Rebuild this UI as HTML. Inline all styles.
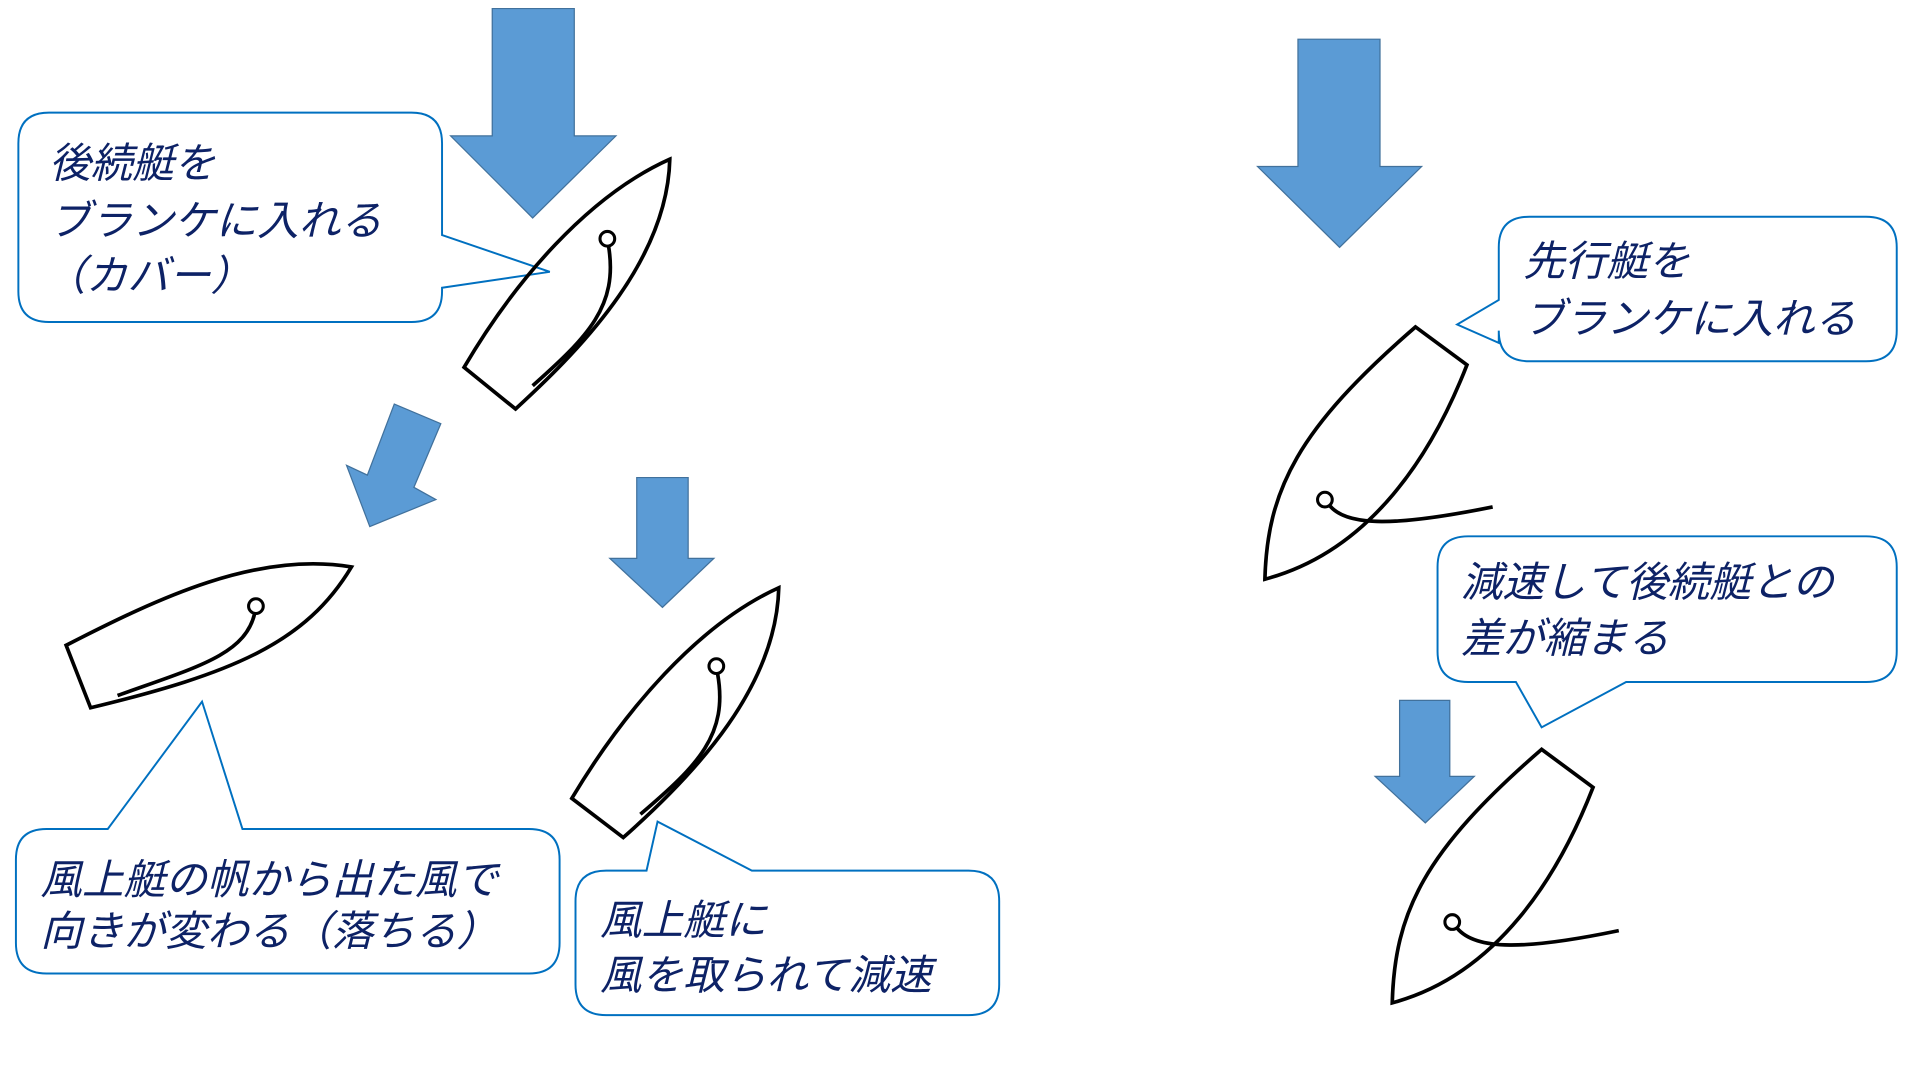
<!DOCTYPE html>
<html><head><meta charset="utf-8"><style>
html,body{margin:0;padding:0;background:#fff;}
svg{display:block;}
text{font-family:"Liberation Sans","Noto Sans CJK JP",sans-serif;font-style:italic;font-size:34px;fill:#0D2266;}
.ar{fill:#5B9BD5;stroke:#41719C;stroke-width:1;}
.co{fill:#fff;stroke:#0070C0;stroke-width:1.6;}
.bt{fill:none;stroke:#000;stroke-width:3;stroke-linejoin:miter;}
</style></head><body>
<svg width="1920" height="1080" viewBox="0 0 1568 882" xmlns="http://www.w3.org/2000/svg">
<!-- arrows -->
<polygon class="ar" points="402,7 469,7 469,111 503,111 435,178 368,111 402,111"/>
<polygon class="ar" points="322,330 360,346 338,398 356,408 302,430 283,380 300,388"/>
<polygon class="ar" points="520,390 562,390 562,456 583,456 541,496 498,456 520,456"/>
<polygon class="ar" points="1060,32 1127,32 1127,136 1161,136 1094,202 1027,136 1060,136"/>
<polygon class="ar" points="1143,572 1184,572 1184,634 1204,634 1164,672 1123,634 1143,634"/>

<!-- callout 1 -->
<path class="co" d="M40,92 H336 Q361,92 361,117 V192 L449,222 L361,235 V238 Q361,263 336,263 H40 Q15,263 15,238 V117 Q15,92 40,92 Z"/>
<text x="40" y="145">後続艇を</text>
<text x="40" y="192">ブランケに入れる</text>
<text x="36" y="237">（カバー）</text>

<!-- boat 1 -->
<path class="bt" d="M547,130 C480,160 420,230 379,300 L421,334 C480,280 545,210 547,130 Z"/>
<circle cx="496" cy="195" r="6" fill="#fff" stroke="#000" stroke-width="2.5"/>
<path class="bt" d="M497,201 C505,250 480,275 435,315"/>

<!-- boat 2 -->
<path class="bt" d="M54,527 C130,488 210,450 287,463 C250,525 190,550 74,578 Z"/>
<circle cx="209" cy="495" r="6" fill="#fff" stroke="#000" stroke-width="2.5"/>
<path class="bt" d="M208,501 C200,535 160,545 96,568"/>

<!-- callout 3 -->
<path class="co" d="M38,677 H88 L165,573 L198,677 H432 Q457,677 457,702 V770 Q457,795 432,795 H38 Q13,795 13,770 V702 Q13,677 38,677 Z"/>
<text x="33" y="730">風上艇の帆から出た風で</text>
<text x="33" y="772">向きが変わる（落ちる）</text>

<!-- boat 3 -->
<path class="bt" d="M636,480 C570,510 510,580 467,652 L509,684 C570,630 634,560 636,480 Z"/>
<circle cx="585" cy="544" r="6" fill="#fff" stroke="#000" stroke-width="2.5"/>
<path class="bt" d="M586,550 C595,600 570,625 523,665"/>

<!-- callout 4 -->
<path class="co" d="M495,711 H528 L537,671 L614,711 H791 Q816,711 816,736 V804 Q816,829 791,829 H495 Q470,829 470,804 V736 Q470,711 495,711 Z"/>
<text x="490" y="763">風上艇に</text>
<text x="490" y="808">風を取られて減速</text>

<!-- callout 5 -->
<path class="co" d="M1249,177 H1524 Q1549,177 1549,202 V270 Q1549,295 1524,295 H1249 Q1224,295 1224,270 V280 L1190,265 L1224,245 V202 Q1224,177 1249,177 Z"/>
<text x="1244" y="225">先行艇を</text>
<text x="1244" y="272">ブランケに入れる</text>

<!-- boat 4 -->
<path class="bt" d="M1156,267 L1198,298 C1170,370 1120,450 1033,473 C1035,400 1060,350 1156,267 Z"/>
<circle cx="1082" cy="408" r="6" fill="#fff" stroke="#000" stroke-width="2.5"/>
<path class="bt" d="M1086,413 C1100,430 1140,430 1219,414"/>

<!-- callout 6 -->
<path class="co" d="M1199,438 H1524 Q1549,438 1549,463 V532 Q1549,557 1524,557 H1328 L1259,594 L1238,557 H1199 Q1174,557 1174,532 V463 Q1174,438 1199,438 Z"/>
<text x="1193" y="487">減速して後続艇との</text>
<text x="1193" y="533">差が縮まる</text>

<!-- boat 5 -->
<path class="bt" d="M1259,612 L1301,643 C1273,715 1223,796 1137,819 C1139,745 1163,695 1259,612 Z"/>
<circle cx="1186" cy="753" r="6" fill="#fff" stroke="#000" stroke-width="2.5"/>
<path class="bt" d="M1190,758 C1205,776 1245,776 1322,760"/>
</svg>
</body></html>
